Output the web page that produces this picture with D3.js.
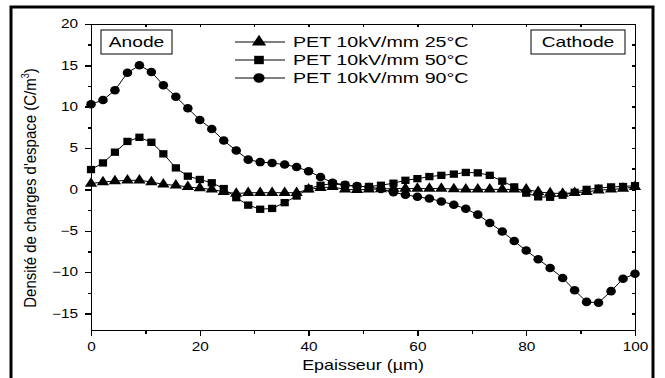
<!doctype html>
<html lang="fr">
<head>
<meta charset="utf-8">
<title>Densité de charges d'espace</title>
<script src="https://cdn.jsdelivr.net/npm/d3@7/dist/d3.min.js"></script>
<style>
	body { margin: 0; background: #fff; }
	text { font-family: "Liberation Sans", Arial, sans-serif; fill: #000; }
	.axis path, .axis line { stroke: #000; stroke-width: 1.5; shape-rendering: crispEdges; }
	.serie { fill: none; stroke: #000; stroke-width: 1; }
</style>
</head>
<body>
<div id="viz"></div>
<script>
// DATA
var thickness = [0, 2.2, 4.4, 6.7, 8.9, 11.1, 13.3, 15.6, 17.8, 20, 22.2, 24.4, 26.7, 28.9, 31.1, 33.3,
	35.6, 37.8, 40, 42.2, 44.4, 46.7, 48.9, 51.1, 53.3, 55.6, 57.8, 60, 62.2, 64.4, 66.7, 68.9,
	71.1, 73.3, 75.6, 77.8, 80, 82.2, 84.4, 86.7, 88.9, 91.1, 93.3, 95.6, 97.8, 100];

var rho25 = [0.7, 0.9, 1.0, 1.1, 1.1, 0.9, 0.6, 0.5, 0.3, 0.15, 0.0, -0.3, -0.5, -0.4, -0.4, -0.4,
	-0.4, -0.4, 0.0, 0.2, 0.3, 0.0, -0.05, 0.0, 0.05, 0.1, 0.1, 0.1, 0.1, 0.1, 0.05, 0.0,
	0.0, 0.0, 0.0, 0.0, 0.0, -0.3, -0.45, -0.5, -0.4, -0.3, -0.1, 0.0, 0.1, 0.3];

var rho50 = [2.4, 3.2, 4.5, 5.8, 6.3, 5.7, 4.3, 2.6, 1.6, 1.2, 0.8, 0.1, -1.0, -1.9, -2.4, -2.3,
	-1.6, -0.8, 0.1, 0.5, 0.7, 0.5, 0.35, 0.35, 0.5, 0.75, 1.1, 1.3, 1.55, 1.7, 1.85, 2.05,
	2.0, 1.7, 1.0, 0.3, -0.45, -0.9, -0.95, -0.7, -0.35, 0.0, 0.15, 0.3, 0.35, 0.45];

var rho90 = [10.3, 10.8, 12.0, 14.1, 15.0, 14.2, 12.6, 11.2, 9.8, 8.4, 7.3, 5.9, 4.7, 3.6, 3.3, 3.2,
	3.0, 2.7, 2.2, 1.5, 0.8, 0.55, 0.4, 0.3, 0.05, -0.35, -0.65, -0.9, -1.1, -1.45, -1.85, -2.35,
	-3.05, -4.05, -5.1, -6.25, -7.4, -8.45, -9.5, -10.7, -12.2, -13.6, -13.7, -12.3, -10.8, -10.2];

var seriesNames = ["PET 10kV/mm 25°C", "PET 10kV/mm 50°C", "PET 10kV/mm 90°C"];
var xTicks = [0, 20, 40, 60, 80, 100];
var xMinor = [10, 30, 50, 70, 90];
var yTicks = [-15, -10, -5, 0, 5, 10, 15, 20];
var yMinor = [-12.5, -7.5, -2.5, 2.5, 7.5, 12.5, 17.5];

var series = [
	{name: seriesNames[0], values: rho25, symbol: d3.symbolTriangle, size: 52},
	{name: seriesNames[1], values: rho50, symbol: d3.symbolSquare, size: 54},
	{name: seriesNames[2], values: rho90, symbol: d3.symbolCircle, size: 57}
];

var w = 665, h = 378;
var sx = 1.28; // the picture is a bit stretched sideways

// SCALES
var xScale = d3.scaleLinear().domain([0, 100]).range([91, 635]);
var yScale = d3.scaleLinear().domain([-17, 20]).range([330, 24]);

var svg = d3.select("#viz").append("svg")
	.attr("width", w)
	.attr("height", h);

// outer frame, its bottom edge is out of the picture
svg.append("rect")
	.attr("x", 11).attr("y", 7)
	.attr("width", 642).attr("height", 420)
	.attr("fill", "none")
	.attr("stroke", "#000")
	.attr("stroke-width", 3);

// AXES
var xAxis = d3.axisBottom(xScale).tickValues(xTicks).tickSize(6).tickPadding(6.5).tickSizeOuter(0);
var gx = svg.append("g").attr("class", "axis")
	.attr("transform", "translate(0," + yScale(-17) + ")")
	.call(xAxis);
gx.selectAll("text")
	.style("font-size", "12px")
	.attr("transform", "scale(" + sx + ",1)");

svg.append("g").attr("class", "axis")
	.attr("transform", "translate(0," + yScale(-17) + ")")
	.call(d3.axisBottom(xScale).tickValues(xMinor).tickSize(3.5).tickFormat("").tickSizeOuter(0));

var yAxis = d3.axisLeft(yScale).tickValues(yTicks).tickSize(6).tickSizeOuter(0);
var gy = svg.append("g").attr("class", "axis")
	.attr("transform", "translate(" + xScale(0) + ",0)")
	.call(yAxis);
gy.selectAll("text")
	.style("font-size", "12px")
	.attr("x", -13 / sx)
	.attr("transform", "scale(" + sx + ",1)");

svg.append("g").attr("class", "axis")
	.attr("transform", "translate(" + xScale(0) + ",0)")
	.call(d3.axisLeft(yScale).tickValues(yMinor).tickSize(3.5).tickFormat("").tickSizeOuter(0));

// top and right, ticks inside
svg.append("g").attr("class", "axis")
	.attr("transform", "translate(0," + yScale(20) + ")")
	.call(d3.axisTop(xScale).tickValues(xTicks.concat(xMinor)).tickSize(-3).tickFormat("").tickSizeOuter(0));

svg.append("g").attr("class", "axis")
	.attr("transform", "translate(" + xScale(100) + ",0)")
	.call(d3.axisRight(yScale).tickValues(yTicks.concat(yMinor)).tickSize(-3).tickFormat("").tickSizeOuter(0));

// axis titles
svg.append("text")
	.attr("transform", "translate(" + ((xScale(0) + xScale(100)) / 2) + ",370) scale(" + sx + ",1)")
	.attr("text-anchor", "middle")
	.style("font-size", "14px")
	.text("Epaisseur (µm)");

var yTitle = svg.append("text")
	.attr("transform", "translate(36,188) rotate(-90) scale(1,1.15)")
	.attr("text-anchor", "middle")
	.style("font-size", "15px");
yTitle.append("tspan").text("Densité de charges d'espace (C/m");
yTitle.append("tspan").attr("dy", -6).style("font-size", "9px").text("3");
yTitle.append("tspan").attr("dy", 6).text(")");

// CURVES
var line = d3.line()
	.x(function(d) { return xScale(d[0]); })
	.y(function(d) { return yScale(d[1]); });

series.forEach(function(s) {
	var pts = thickness.map(function(t, i) { return [t, s.values[i]]; });
	svg.append("path")
		.attr("class", "serie")
		.attr("d", line(pts));
	svg.append("g").selectAll("path")
		.data(pts)
		.enter()
		.append("path")
		.attr("d", d3.symbol().type(s.symbol).size(s.size))
		.attr("transform", function(d) {
			return "translate(" + xScale(d[0]) + "," + yScale(d[1]) + ") scale(1.12,1)";
		})
		.attr("fill", "#000");
});

// LEGEND
var legend = svg.append("g").attr("transform", "translate(235,42)");
series.forEach(function(s, i) {
	var row = legend.append("g").attr("transform", "translate(0," + (i * 18) + ")");
	row.append("line")
		.attr("x1", 0).attr("x2", 50)
		.attr("stroke", "#000").attr("stroke-width", 1);
	row.append("path")
		.attr("d", d3.symbol().type(s.symbol).size(s.size * 1.3))
		.attr("transform", "translate(24,0) scale(1.15,1)")
		.attr("fill", "#000");
	row.append("text")
		.attr("transform", "translate(58,5) scale(" + (sx + 0.03) + ",1)")
		.style("font-size", "15px")
		.text(s.name);
});

// electrode boxes
function labelBox(x, width, label) {
	svg.append("rect")
		.attr("x", x).attr("y", 30)
		.attr("width", width).attr("height", 24)
		.attr("fill", "#fff")
		.attr("stroke", "#000")
		.attr("stroke-width", 1);
	svg.append("text")
		.attr("transform", "translate(" + (x + width / 2) + ",47) scale(" + sx + ",1)")
		.attr("text-anchor", "middle")
		.style("font-size", "15px")
		.text(label);
}
labelBox(101, 71, "Anode");
labelBox(531, 94, "Cathode");
</script>
</body>
</html>
